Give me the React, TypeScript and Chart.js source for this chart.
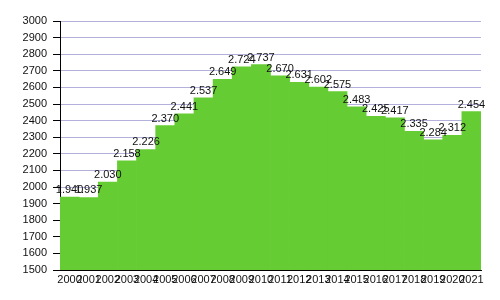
import React, { useEffect, useRef } from "react";
import { Chart, registerables } from "chart.js";

Chart.register(...registerables);

const years = ["2000","2001","2002","2003","2004","2005","2006","2007","2008","2009","2010","2011","2012","2013","2014","2015","2016","2017","2018","2019","2020","2021"];
const population = [1940,1937,2030,2158,2226,2370,2441,2537,2649,2724,2737,2670,2631,2602,2575,2483,2425,2417,2335,2284,2312,2454];
const yMin = 1500;
const yMax = 3000;
const yStep = 100;

const fmt = (v: number) => {
  const s = String(v);
  return s.length > 3 ? s.slice(0, s.length - 3) + "." + s.slice(s.length - 3) : s;
};

const labelPlugin = {
  id: "valueLabels",
  afterDatasetsDraw(chart: any) {
    const ctx = chart.ctx;
    const meta = chart.getDatasetMeta(0);
    ctx.save();
    ctx.font = "11px 'Liberation Sans', Arial, sans-serif";
    ctx.fillStyle = "#111";
    ctx.textAlign = "center";
    ctx.textBaseline = "alphabetic";
    meta.data.forEach((el: any, i: number) => {
      ctx.fillText(fmt(population[i]), el.x, el.y - 4);
    });
    ctx.restore();
  },
};

export default function App() {
  const ref = useRef<HTMLCanvasElement>(null);
  useEffect(() => {
    document.body.style.margin = "0";
    const chart = new Chart(ref.current!, {
      type: "bar",
      data: {
        labels: years,
        datasets: [
          {
            data: population,
            backgroundColor: "#66cc33",
            borderWidth: 0,
            barPercentage: 1,
            categoryPercentage: 1,
          },
        ],
      },
      options: {
        responsive: false,
        animation: false,
        layout: { padding: { left: 0, right: 19, top: 21, bottom: 0 } },
        plugins: { legend: { display: false }, tooltip: { enabled: false } },
        scales: {
          x: {
            grid: { display: false, drawTicks: false },
            border: { display: true, color: "#000", width: 1 },
            ticks: {
              autoSkip: false,
              maxRotation: 0,
              minRotation: 0,
              color: "#111",
              padding: 3,
              font: { family: "'Liberation Sans', Arial, sans-serif", size: 11 },
            },
            afterFit: (s: any) => { s.height = 30; },
          },
          y: {
            min: yMin,
            max: yMax,
            ticks: {
              stepSize: yStep,
              color: "#111",
              padding: 6,
              font: { family: "'Liberation Sans', Arial, sans-serif", size: 11 },
              callback: (v: any) => String(v),
            },
            grid: { color: "#b4b0dc", tickColor: "#000", tickLength: 7 },
            border: { display: true, color: "#000", width: 1 },
            afterFit: (s: any) => { s.width = 60; },
          },
        },
      },
      plugins: [labelPlugin],
    });
    return () => chart.destroy();
  }, []);
  return <canvas ref={ref} width={500} height={300} />;
}
